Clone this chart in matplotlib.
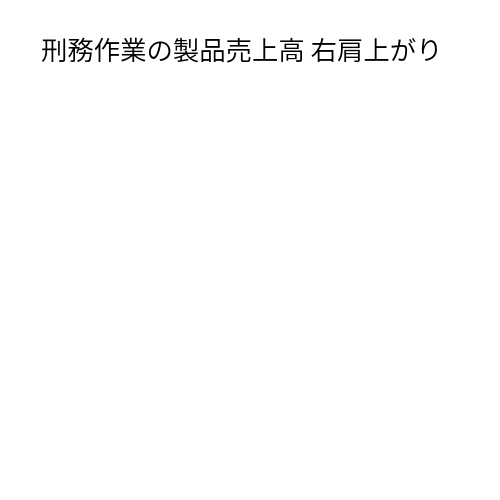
import matplotlib
matplotlib.use("Agg")
import matplotlib.pyplot as plt

plt.rcParams['font.family'] = ['Noto Sans CJK JP', 'DejaVu Sans']

title = "刑務作業の製品売上高 右肩上がり"

fig = plt.figure(figsize=(5, 5), dpi=100)
fig.patch.set_facecolor("white")
fig.text(0.483, 0.897, title, ha="center", va="center", fontsize=19,
         color="black", fontweight=350)

fig.savefig("out.png", dpi=100)
